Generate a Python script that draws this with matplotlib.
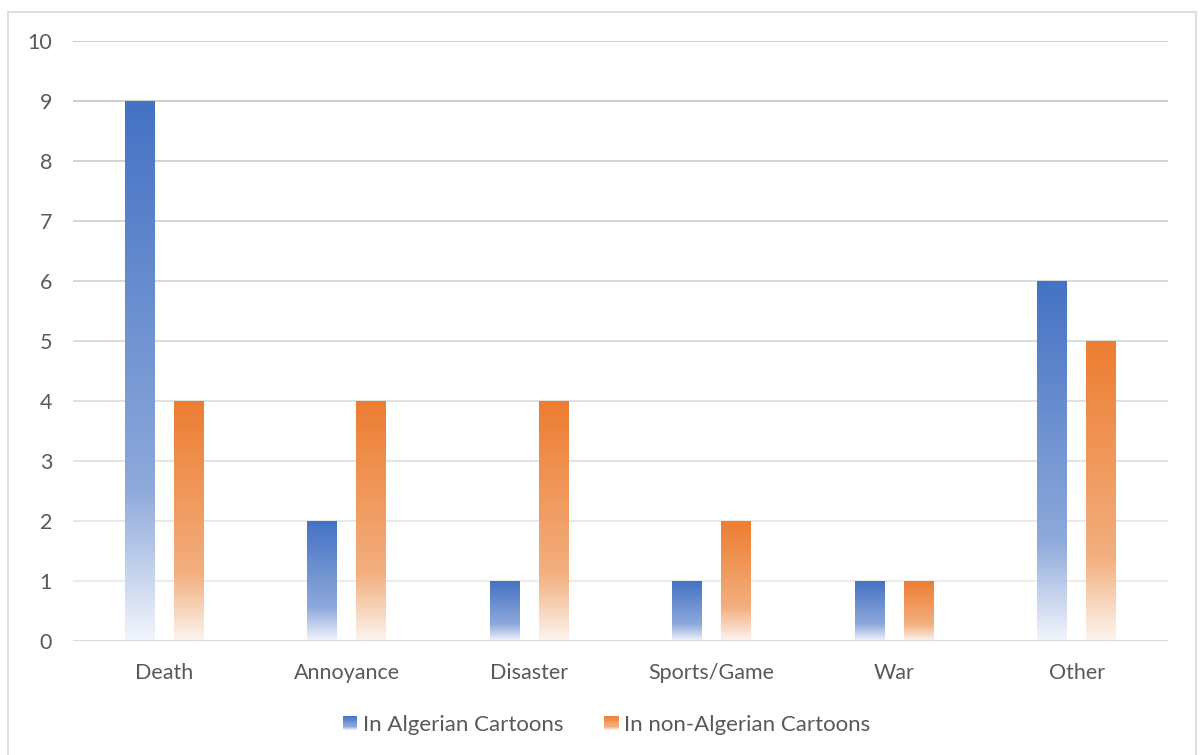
import matplotlib
matplotlib.use("Agg")
import matplotlib.pyplot as plt
from matplotlib.colors import LinearSegmentedColormap, to_rgb
from matplotlib.patches import Rectangle
from matplotlib.legend_handler import HandlerBase
import numpy as np

categories = ["Death", "Annoyance", "Disaster", "Sports/Game", "War", "Other"]
algerian = [9, 2, 1, 1, 1, 6]
non_algerian = [4, 4, 4, 2, 1, 5]
series_names = ["In Algerian Cartoons", "In non-Algerian Cartoons"]

# top -> bottom gradient stops, like the office "gradient fill" bars
blue_stops = [(0.0, "#4472C4"), (0.72, "#8EA9DB"), (1.0, "#F2F5FC")]
orange_stops = [(0.0, "#ED7D31"), (0.72, "#F3AF7F"), (1.0, "#FCF5F0")]

plt.rcParams["font.family"] = ["Lato", "DejaVu Sans"]
text_color = "#595959"


def make_cmap(stops, name):
    return LinearSegmentedColormap.from_list(name, [(p, to_rgb(c)) for p, c in stops])


cmap_blue = make_cmap(blue_stops, "blue_fade")
cmap_orange = make_cmap(orange_stops, "orange_fade")
grad = np.linspace(0, 1, 256).reshape(-1, 1)

fig = plt.figure(figsize=(12.02, 7.55), dpi=100)
ax = fig.add_axes([0.0607, 0.151, 0.911, 0.7947])

x = np.arange(len(categories))
width = 0.164
offset = 0.134


def gradient_bars(ax, xs, values, cmap):
    for xc, v in zip(xs, values):
        ax.imshow(grad, cmap=cmap, aspect="auto", interpolation="bilinear",
                  extent=[xc - width / 2, xc + width / 2, 0, v], origin="upper", zorder=3)


gradient_bars(ax, x - offset, algerian, cmap_blue)
gradient_bars(ax, x + offset, non_algerian, cmap_orange)

ax.set_xlim(-0.5, len(categories) - 0.5)
ax.set_ylim(0, 10)
ax.set_yticks(range(0, 11))

# gridlines get lighter toward the baseline
yt = ax.get_yticks()
for y in yt[1:]:
    t = y / 10
    g = 0.93 - 0.15 * t
    ax.axhline(y, color=(g, g, g), lw=1.3, zorder=1)
ax.axhline(0, color="#D9D9D9", lw=1.5, zorder=4)

for s in ax.spines.values():
    s.set_visible(False)
ax.set_xticks(x)
ax.set_xticklabels(categories)
ax.tick_params(axis="both", length=0, labelsize=15.5, colors=text_color)
ax.tick_params(axis="y", pad=15)
ax.tick_params(axis="x", pad=16)


class GradientHandler(HandlerBase):
    def __init__(self, cmap):
        super().__init__()
        self.cmap = cmap

    def create_artists(self, legend, orig_handle, xdescent, ydescent, width, height, fontsize, trans):
        n = 12
        side = height * 1.0
        x0 = -xdescent + width - side
        arts = []
        for i in range(n):
            c = self.cmap((i + 0.5) / n)
            y0 = -ydescent + height - (i + 1) * height / n
            arts.append(Rectangle((x0, y0), side, height / n, facecolor=c, edgecolor="none", transform=trans))
        return arts


h1 = Rectangle((0, 0), 1, 1)
h2 = Rectangle((0, 0), 1, 1)
leg = fig.legend([h1, h2], series_names, loc="center", bbox_to_anchor=(607 / 1202, 1 - 725 / 755),
                 ncol=2, frameon=False, fontsize=16, handlelength=0.6, handleheight=0.6,
                 handletextpad=0.25, columnspacing=1.9,
                 handler_map={h1: GradientHandler(cmap_blue), h2: GradientHandler(cmap_orange)})
for t in leg.get_texts():
    t.set_color(text_color)

# chart border
fig.patches.append(Rectangle((8 / 1202, -0.01), 1188 / 1202, 1.01 - 12 / 755, transform=fig.transFigure,
                             facecolor="none", edgecolor="#D9D9D9", lw=1.2))

fig.savefig("out.png", dpi=100)
